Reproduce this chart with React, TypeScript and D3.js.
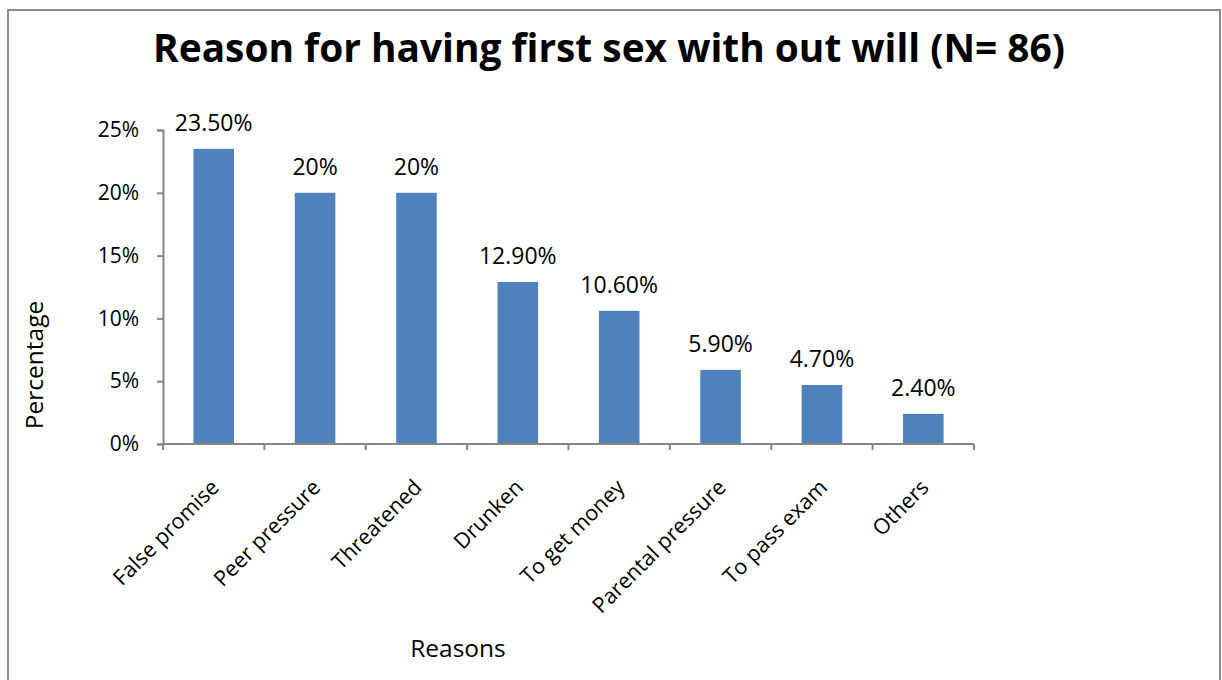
import React, { useEffect, useRef } from "react";
import * as d3 from "d3";

const categories = [
  "False promise",
  "Peer pressure",
  "Threatened",
  "Drunken",
  "To get money",
  "Parental pressure",
  "To pass exam",
  "Others",
];
const values = [23.5, 20, 20, 12.9, 10.6, 5.9, 4.7, 2.4];
const valueLabels = ["23.50%", "20%", "20%", "12.90%", "10.60%", "5.90%", "4.70%", "2.40%"];
const yTicks = [0, 5, 10, 15, 20, 25];
const title = "Reason for having first sex with out will (N= 86)";
const xTitle = "Reasons";
const yTitle = "Percentage";

const W = 1222;
const H = 680;
const FONT = "'Open Sans', 'DejaVu Sans', sans-serif";

export default function App() {
  const ref = useRef<SVGSVGElement>(null);

  useEffect(() => {
    const svg = d3.select(ref.current);
    svg.selectAll("*").remove();

    const left = 163, right = 974, top = 130, bottom = 444;
    const x = d3.scaleBand<string>().domain(categories).range([left, right]).paddingInner(0.6).paddingOuter(0.3);
    const xb = d3.scaleBand<string>().domain(categories).range([left, right]);
    const y = d3.scaleLinear().domain([0, 25]).range([bottom, top]);

    svg.append("rect").attr("x", 0).attr("y", 0).attr("width", W).attr("height", H).attr("fill", "#fff");
    // frame
    svg.append("rect").attr("x", 8).attr("y", 10).attr("width", 1212).attr("height", H + 10)
      .attr("fill", "none").attr("stroke", "#8c8c8c").attr("stroke-width", 2);

    // title
    const t = svg.append("text").attr("x", 609).attr("y", 62).attr("text-anchor", "middle")
      .attr("font-family", FONT).attr("font-weight", "bold").attr("font-size", 38).attr("fill", "#000").text(title);
    const tw = (t.node() as SVGTextElement).getComputedTextLength();
    if (tw > 0) t.attr("font-size", 38 * 912 / tw);

    // bars
    svg.append("g").selectAll("rect").data(values).join("rect")
      .attr("x", (_, i) => x(categories[i])!)
      .attr("width", x.bandwidth())
      .attr("y", d => y(d))
      .attr("height", d => bottom - y(d))
      .attr("fill", "#4F81BD");

    // data labels
    svg.append("g").selectAll("text").data(values).join("text")
      .attr("x", (_, i) => x(categories[i])! + x.bandwidth() / 2)
      .attr("y", d => y(d) - 18)
      .attr("text-anchor", "middle")
      .attr("font-family", FONT).attr("font-size", 23).attr("fill", "#000")
      .text((_, i) => valueLabels[i]);

    // y axis
    const gy = svg.append("g").attr("transform", `translate(${left},0)`)
      .call(d3.axisLeft(y).tickValues(yTicks).tickSize(6).tickPadding(18).tickFormat(d => `${d}%`));
    gy.select(".domain").attr("stroke", "#868686").attr("stroke-width", 2);
    gy.selectAll(".tick line").attr("stroke", "#868686").attr("stroke-width", 2);
    gy.selectAll(".tick text").attr("font-family", FONT).attr("font-size", 21).attr("fill", "#000");

    // x axis
    const gx = svg.append("g").attr("transform", `translate(0,${bottom})`);
    gx.append("line").attr("x1", left).attr("x2", right).attr("y1", 0).attr("y2", 0)
      .attr("stroke", "#868686").attr("stroke-width", 2);
    const boundaries = categories.map(c => xb(c)!).concat([right]);
    gx.selectAll("line.tk").data(boundaries).join("line").attr("class", "tk")
      .attr("x1", d => d).attr("x2", d => d).attr("y1", 0).attr("y2", 6)
      .attr("stroke", "#868686").attr("stroke-width", 2);

    svg.append("g").selectAll("text").data(categories).join("text")
      .attr("transform", c => `translate(${xb(c)! + xb.bandwidth() / 2 - 4},${bottom + 34}) rotate(-45)`)
      .attr("text-anchor", "end")
      .attr("dy", "0.7em")
      .attr("font-family", FONT).attr("font-size", 21.5).attr("fill", "#000")
      .text(c => c);

    // axis titles
    svg.append("text").attr("x", 458).attr("y", 657).attr("text-anchor", "middle")
      .attr("font-family", FONT).attr("font-size", 24.5).attr("fill", "#000").text(xTitle);
    svg.append("text").attr("transform", `translate(43,365) rotate(-90)`).attr("text-anchor", "middle")
      .attr("font-family", FONT).attr("font-size", 24.5).attr("fill", "#000").text(yTitle);
  }, []);

  return <svg ref={ref} width={W} height={H} style={{ display: "block", position: "absolute", left: 0, top: 0 }} />;
}
